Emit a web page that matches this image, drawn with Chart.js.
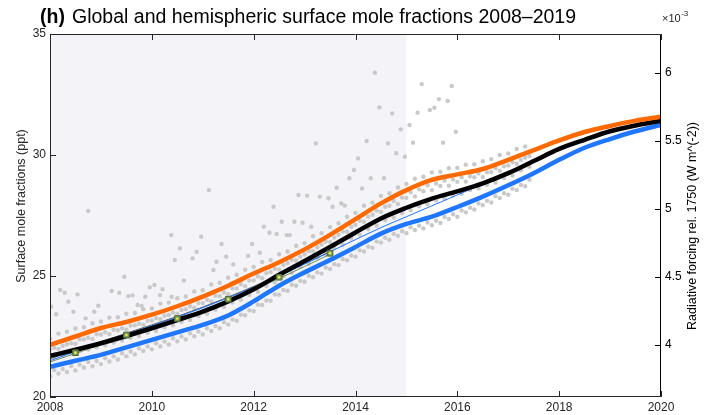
<!DOCTYPE html>
<html>
<head>
<meta charset="utf-8">
<script src="https://cdn.jsdelivr.net/npm/chart.js@4.4.0/dist/chart.umd.min.js"></script>
<style>
  html, body { margin: 0; padding: 0; background: #fff; }
  #mygraph { display: block; }
</style>
</head>
<body>
<canvas id="mygraph" width="724" height="415"></canvas>
<script>
// ---- data ----
const lineYears = [2008, 2008.5, 2009, 2009.5, 2010, 2010.5, 2011, 2011.5, 2012, 2012.5, 2013, 2013.5,
  2014, 2014.5, 2015, 2015.5, 2016, 2016.5, 2017, 2017.5, 2018, 2018.5, 2019, 2019.5, 2020]
const nhLine = [22.15, 22.5, 22.85, 23.1, 23.4, 23.75, 24.15, 24.6, 25.1, 25.57, 26.1, 26.7,
  27.35, 28.0, 28.55, 28.97, 29.2, 29.42, 29.8, 30.2, 30.6, 30.95, 31.2, 31.42, 31.58]
const globalLine = [21.7, 21.95, 22.22, 22.52, 22.84, 23.18, 23.53, 23.95, 24.45, 25.05, 25.62, 26.2,
  26.8, 27.38, 27.82, 28.2, 28.5, 28.83, 29.25, 29.75, 30.25, 30.63, 30.98, 31.22, 31.42]
const shLine = [21.25, 21.5, 21.74, 22.05, 22.36, 22.67, 22.98, 23.37, 23.95, 24.6, 25.15, 25.66,
  26.2, 26.75, 27.15, 27.45, 27.85, 28.28, 28.75, 29.25, 29.8, 30.3, 30.66, 30.98, 31.24]

// thin model/obs lines
const thinBlueYears = [2008, 2008.5, 2009.5, 2010.5, 2011.5, 2012.5, 2013.5, 2014.5, 2015, 2015.5, 2016, 2016.5, 2017]
const thinBlue = [21.5, 21.88, 22.6, 23.3, 24.1, 25.0, 26.0, 27.0, 27.45, 27.9, 28.35, 28.8, 29.25]
const thinOliveYears = [2008, 2008.5, 2009.5, 2010.5, 2011.5, 2012.5, 2013.5]
const thinOlive = [21.45, 21.8, 22.52, 23.2, 24.0, 24.9, 25.9]
const thinGrey = [21.58, 21.92, 22.64, 23.33, 24.13, 25.03, 26.0]

// annual means (green squares)
const annualYears = [2008.5, 2009.5, 2010.5, 2011.5, 2012.5, 2013.5]
const annualMeans = [21.83, 22.56, 23.24, 24.04, 24.95, 25.94]

// station records, every two months
const stationStep = 1 / 6
const nhHighStart = 2008
const nhHigh = [22.41, 22.62, 22.70, 22.83, 22.88, 23.05,
  23.12, 23.28, 23.30, 23.44, 23.47, 23.63,
  23.66, 23.86, 23.90, 24.08, 24.15, 24.36,
  24.41, 24.65, 24.72, 24.93, 25.05, 25.26,
  25.37, 25.58, 25.66, 25.90, 26.01, 26.25,
  26.36, 26.64, 26.77, 27.02, 27.18, 27.45,
  27.61, 27.90, 28.03, 28.31, 28.42, 28.66,
  28.80, 29.02, 29.10, 29.28, 29.31, 29.45,
  29.47, 29.60, 29.62, 29.74, 29.83, 30.00,
  30.06, 30.25, 30.35]
const nhMidStart = 2008.083
const nhMid = [22.03, 22.12, 22.22, 22.38, 22.45, 22.59,
  22.68, 22.78, 22.84, 22.95, 23.03, 23.15,
  23.26, 23.36, 23.49, 23.60, 23.75, 23.88,
  24.02, 24.18, 24.32, 24.49, 24.66, 24.81,
  24.99, 25.12, 25.30, 25.46, 25.66, 25.80,
  26.02, 26.19, 26.42, 26.59, 26.84, 27.03,
  27.28, 27.45, 27.70, 27.86, 28.10, 28.24,
  28.46, 28.58, 28.75, 28.82, 28.94, 28.99,
  29.08, 29.12, 29.24, 29.28, 29.45, 29.53,
  29.70, 29.80, 29.96]
const nhLowStart = 2008
const nhLow = [21.97, 21.99, 22.18, 22.20, 22.38, 22.40,
  22.58, 22.60, 22.76, 22.79, 22.96, 22.99,
  23.16, 23.21, 23.39, 23.44, 23.63, 23.69,
  23.88, 23.95, 24.17, 24.25, 24.49, 24.58,
  24.82, 24.91, 25.17, 25.27, 25.54, 25.64,
  25.90, 26.02, 26.30, 26.41, 26.70, 26.83,
  27.12, 27.24, 27.53, 27.65, 27.90, 27.98,
  28.23, 28.29, 28.50, 28.55, 28.72, 28.73,
  28.89, 28.90, 29.08, 29.09, 29.30, 29.35,
  29.57, 29.64, 29.89]
const tropicStart = 2008.083
const tropic = [21.66, 21.73, 21.80, 21.90, 21.96, 22.06,
  22.14, 22.25, 22.33, 22.45, 22.52, 22.65,
  22.73, 22.88, 22.96, 23.11, 23.19, 23.35,
  23.44, 23.61, 23.72, 23.90, 24.02, 24.22,
  24.35, 24.59, 24.74, 24.99, 25.13, 25.38,
  25.51, 25.76, 25.90, 26.15, 26.29, 26.55,
  26.70, 26.94, 27.08, 27.31, 27.42, 27.60,
  27.71, 27.88, 27.96, 28.12, 28.19, 28.33,
  28.40, 28.55, 28.62, 28.77, 28.86, 29.05,
  29.15, 29.37, 29.51]
const shHighStart = 2008.083
const shHigh = [21.12, 21.16, 21.28, 21.33, 21.45, 21.49,
  21.60, 21.68, 21.81, 21.88, 22.01, 22.09,
  22.22, 22.29, 22.43, 22.50, 22.63, 22.71,
  22.84, 22.93, 23.09, 23.20, 23.40, 23.58,
  23.81, 23.99, 24.24, 24.42, 24.64, 24.80,
  25.01, 25.15, 25.35, 25.49, 25.70, 25.85,
  26.06, 26.21, 26.43, 26.58, 26.74, 26.85,
  27.01, 27.08, 27.21, 27.28, 27.44, 27.55,
  27.71, 27.82, 28.00, 28.11, 28.30, 28.42,
  28.61, 28.76, 28.98]
const shLowStart = 2008
const shLow = [20.86, 20.97, 21.03, 21.10, 21.22, 21.27,
  21.36, 21.47, 21.55, 21.68, 21.76, 21.90,
  21.97, 22.09, 22.17, 22.30, 22.38, 22.51,
  22.58, 22.73, 22.84, 23.00, 23.15, 23.38,
  23.55, 23.80, 23.98, 24.23, 24.39, 24.60,
  24.76, 24.95, 25.10, 25.29, 25.45, 25.65,
  25.80, 26.01, 26.17, 26.38, 26.50, 26.66,
  26.77, 26.90, 26.97, 27.10, 27.19, 27.36,
  27.45, 27.63, 27.75, 27.93, 28.04, 28.22,
  28.36, 28.55, 28.71]

// polluted / scattered samples
const outlierYears = [2008.02, 2008.12, 2008.20, 2008.29, 2008.36, 2008.54, 2008.46, 2008.70, 2008.87, 2008.95,
  2009.21, 2009.36, 2009.46, 2009.54, 2009.62, 2009.72, 2009.80, 2009.87, 2009.96, 2010.05,
  2010.16, 2008.75, 2010.38, 2010.55, 2010.45, 2010.97, 2010.80, 2010.88, 2010.63, 2011.37,
  2011.21, 2011.27, 2011.60, 2011.89, 2011.97, 2012.12, 2012.20, 2012.31, 2012.45, 2012.55,
  2012.65, 2011.12, 2011.46, 2012.39, 2014.38, 2014.47, 2014.72, 2015.22, 2014.89, 2015.06,
  2014.22, 2014.64, 2015.13, 2013.22, 2014.05, 2014.80, 2014.97, 2013.97, 2013.88, 2014.30,
  2014.56, 2014.13, 2013.63, 2012.88, 2013.05, 2013.30, 2013.47, 2013.55, 2013.72, 2013.79,
  2012.80, 2012.96, 2013.13, 2012.71, 2015.30, 2015.89, 2015.64, 2015.55, 2015.46, 2015.81,
  2015.97, 2015.72, 2010.21, 2010.39]
const outlierValues = [23.73, 23.42, 24.42, 24.31, 23.94, 24.24, 23.52, 23.25, 23.52, 23.77,
  24.38, 24.31, 24.97, 24.17, 24.20, 23.80, 23.76, 24.14, 24.53, 24.63,
  24.21, 27.69, 26.69, 26.14, 25.66, 26.62, 25.73, 26.00, 24.81, 26.32,
  25.25, 25.59, 25.48, 25.83, 26.32, 25.96, 27.04, 26.79, 26.74, 27.24,
  26.69, 28.55, 25.80, 27.86, 33.40, 31.97, 31.72, 31.75, 31.06, 31.24,
  30.58, 30.48, 30.51, 30.48, 29.86, 30.07, 29.93, 29.38, 29.04, 29.04,
  29.04, 28.62, 28.65, 28.35, 28.32, 28.28, 28.21, 27.86, 28.00, 27.91,
  27.24, 27.20, 27.04, 26.69, 32.93, 32.85, 32.31, 31.95, 31.86, 32.23,
  30.96, 30.51, 24.45, 24.14]

const obsPeriodEnd = 2015
const xTicks = [2008, 2010, 2012, 2014, 2016, 2018, 2020]
const leftTicks = [20, 25, 30, 35]
const rightTicks = [4, 4.5, 5, 5.5, 6]
const rightMin = 3.618, rightMax = 6.287

const titleBold = '(h)'
const titleText = 'Global and hemispheric surface mole fractions 2008\u20132019'
const leftTitle = 'Surface mole fractions (ppt)'
const rightTitle = 'Radiative forcing rel. 1750 (W m^(-2))'

// ---- helpers ----
const FONT = '"Liberation Sans", Arial, Helvetica, sans-serif'
const AX = '#262626'
let pairs = (xs, ys) => ys.map((v, i) => ({ x: xs[i], y: v }))
let station = (start, vals) => vals.map((v, i) => ({ x: start + i * stationStep, y: v }))

let dots = (data) => ({
  data: data, showLine: false, pointRadius: 2.2, pointBorderWidth: 0,
  pointBackgroundColor: '#c9c9c9', pointHoverRadius: 0
})
let thick = (xs, ys, color) => ({
  data: pairs(xs, ys), borderColor: color, borderWidth: 4.5, pointRadius: 0,
  cubicInterpolationMode: 'monotone', borderCapStyle: 'round'
})
let thin = (xs, ys, color) => ({
  data: pairs(xs, ys), borderColor: color, borderWidth: 1, pointRadius: 0,
  cubicInterpolationMode: 'monotone'
})

const shadePlugin = {
  id: 'shade',
  beforeDatasetsDraw(chart) {
    const { ctx, chartArea: a, scales: { x } } = chart
    const x0 = x.getPixelForValue(2008), x1 = x.getPixelForValue(obsPeriodEnd)
    ctx.save()
    ctx.fillStyle = '#f3f3f8'
    ctx.fillRect(x0, a.top, x1 - x0, a.bottom - a.top)
    ctx.restore()
  }
}

const framePlugin = {
  id: 'frame',
  afterDraw(chart) {
    const { ctx, chartArea: a, scales: { x, y, y2 } } = chart
    const t = 6
    ctx.save()
    ctx.lineWidth = 1
    ctx.strokeStyle = AX
    ctx.beginPath()
    xTicks.forEach(v => {
      const px = Math.round(x.getPixelForValue(v)) + 0.5
      ctx.moveTo(px, a.bottom); ctx.lineTo(px, a.bottom - t)
      ctx.moveTo(px, a.top); ctx.lineTo(px, a.top + t)
    })
    leftTicks.forEach(v => {
      const py = Math.round(y.getPixelForValue(v)) + 0.5
      ctx.moveTo(a.left, py); ctx.lineTo(a.left + t, py)
    })
    ctx.stroke()
    ctx.strokeStyle = '#000'
    ctx.beginPath()
    rightTicks.forEach(v => {
      const py = Math.round(y2.getPixelForValue(v)) + 0.5
      ctx.moveTo(a.right, py); ctx.lineTo(a.right - t, py)
    })
    ctx.stroke()
    // box
    const L = Math.round(a.left) + 0.5, R = Math.round(a.right) - 0.5
    const T = Math.round(a.top) + 0.5, B = Math.round(a.bottom) - 0.5
    ctx.strokeStyle = AX
    ctx.beginPath()
    ctx.moveTo(R, T); ctx.lineTo(L, T); ctx.lineTo(L, B); ctx.lineTo(R, B)
    ctx.stroke()
    ctx.strokeStyle = '#000'
    ctx.beginPath()
    ctx.moveTo(R, T); ctx.lineTo(R, B)
    ctx.stroke()

    // titles
    ctx.fillStyle = '#000'
    ctx.textBaseline = 'alphabetic'
    ctx.textAlign = 'left'
    ctx.font = 'bold 19.5px ' + FONT
    ctx.fillText(titleBold, 40, 23)
    ctx.font = '19.5px ' + FONT
    ctx.fillText(titleText, 72, 23)

    ctx.fillStyle = AX
    ctx.font = '11px ' + FONT
    ctx.fillText('\u00d710', 662, 22)
    const w = ctx.measureText('\u00d710').width
    ctx.font = '8px ' + FONT
    ctx.fillText('-3', 662 + w + 0.5, 16)

    ctx.font = '12.5px ' + FONT
    ctx.textAlign = 'center'
    ctx.textBaseline = 'middle'
    ctx.save()
    ctx.translate(22, 206)
    ctx.rotate(-Math.PI / 2)
    ctx.fillText(leftTitle, 0, 0)
    ctx.restore()
    ctx.fillStyle = '#000'
    ctx.save()
    ctx.translate(693, 226)
    ctx.rotate(-Math.PI / 2)
    ctx.fillText(rightTitle, 0, 0)
    ctx.restore()
    ctx.restore()
  }
}

const tickFont = { family: FONT, size: 12 }
const noGrid = { display: false, drawTicks: false, tickLength: 0 }

new Chart(document.getElementById('mygraph').getContext('2d'), {
  type: 'line',
  data: {
    datasets: [
      {
        data: pairs(annualYears, annualMeans), showLine: false, pointRadius: 1.2,
        pointBackgroundColor: '#f2f24a', pointBorderWidth: 0
      },
      {
        data: pairs(annualYears, annualMeans), showLine: false, pointStyle: 'rect', pointRadius: 4,
        pointBackgroundColor: '#7d9c55', pointBorderColor: '#4e6a3a', pointBorderWidth: 1
      },
      thick(lineYears, nhLine, '#ff6a00'),
      thick(lineYears, globalLine, '#000000'),
      thick(lineYears, shLine, '#1f77ff'),
      thin(thinBlueYears, thinBlue, '#1f77ff'),
      thin(thinOliveYears, thinGrey, '#5a5a5a'),
      thin(thinOliveYears, thinOlive, '#6e8f58'),
      dots(pairs(outlierYears, outlierValues)),
      dots(station(nhHighStart, nhHigh)),
      dots(station(nhMidStart, nhMid)),
      dots(station(nhLowStart, nhLow)),
      dots(station(tropicStart, tropic)),
      dots(station(shHighStart, shHigh)),
      dots(station(shLowStart, shLow))
    ]
  },
  options: {
    responsive: false,
    animation: false,
    devicePixelRatio: 1,
    layout: { padding: { top: 34, left: 0, right: 0, bottom: 0 } },
    plugins: { legend: { display: false }, tooltip: { enabled: false } },
    events: [],
    scales: {
      x: {
        type: 'linear', min: 2008, max: 2020,
        grid: noGrid, border: { display: false },
        afterBuildTicks: s => { s.ticks = xTicks.map(v => ({ value: v })) },
        afterFit: s => { s.height = 18 },
        ticks: { font: tickFont, color: AX, padding: 3, maxRotation: 0, autoSkip: false, callback: v => String(v) }
      },
      y: {
        position: 'left', min: 20, max: 35,
        grid: noGrid, border: { display: false },
        afterBuildTicks: s => { s.ticks = leftTicks.map(v => ({ value: v })) },
        afterFit: s => { s.width = 50 },
        ticks: { font: tickFont, color: AX, padding: 4, callback: v => String(v) }
      },
      y2: {
        position: 'right', min: rightMin, max: rightMax,
        grid: noGrid, border: { display: false },
        afterBuildTicks: s => { s.ticks = rightTicks.map(v => ({ value: v })) },
        afterFit: s => { s.width = 63 },
        ticks: { font: tickFont, color: '#000', padding: 4, callback: v => String(v) }
      }
    }
  },
  plugins: [shadePlugin, framePlugin]
})
</script>
</body>
</html>
